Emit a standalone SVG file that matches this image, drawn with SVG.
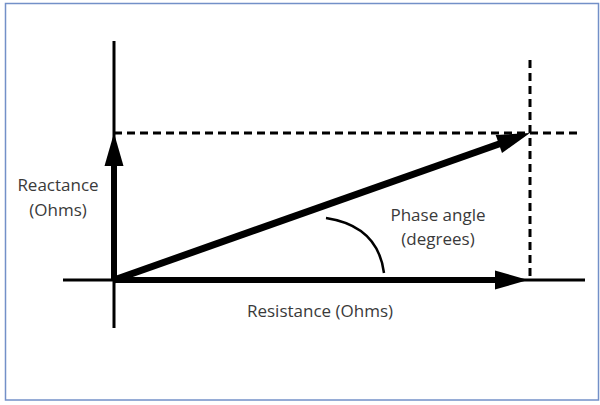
<svg xmlns="http://www.w3.org/2000/svg" width="600" height="405" viewBox="0 0 600 405">
<style>
.axis{stroke:#000;stroke-width:3;fill:none}
.vec{stroke:#000;fill:none;marker-end:url(#ah)}
.dash{stroke:#000;stroke-width:3;stroke-dasharray:8 5;fill:none}
.lbl{font-family:"Open Sans","Noto Sans",sans-serif;font-size:17px;fill:#3a3a3a;text-anchor:middle}
</style>
<defs>
<marker id="ah" markerUnits="userSpaceOnUse" markerWidth="33" markerHeight="19" refX="13" refY="9.5" orient="auto" overflow="visible">
<path d="M0,0 L33,9.5 L0,19 Z" fill="#000"/>
</marker>
</defs>
<rect x="5.5" y="3.5" width="593" height="396.5" fill="#fff" stroke="#7390c8" stroke-width="1.5"/>
<g id="connectors">
<line class="axis" x1="114" y1="41" x2="114" y2="328"/>
<line class="axis" x1="63" y1="280" x2="585" y2="280"/>
<line class="dash" x1="114" y1="133" x2="578" y2="133"/>
<line class="dash" x1="530" y1="60" x2="530" y2="278"/>
<line class="vec" stroke-width="6" x1="114" y1="280" x2="114" y2="153"/>
<line class="vec" stroke-width="6" x1="114" y1="280" x2="508" y2="280"/>
<line class="vec" stroke-width="7" x1="114" y1="280" x2="511.1" y2="139.7"/>
<path d="M326,218 Q378,226 384,273" stroke="#000" stroke-width="2.5" fill="none"/>
</g>
<g id="reactance">
<text class="lbl" x="58" y="191">Reactance</text>
<text class="lbl" x="58" y="216">(Ohms)</text>
</g>
<g id="resistance">
<text class="lbl" x="320" y="317">Resistance (Ohms)</text>
</g>
<g id="phase">
<text class="lbl" x="438" y="221">Phase angle</text>
<text class="lbl" x="438" y="245">(degrees)</text>
</g>
</svg>
